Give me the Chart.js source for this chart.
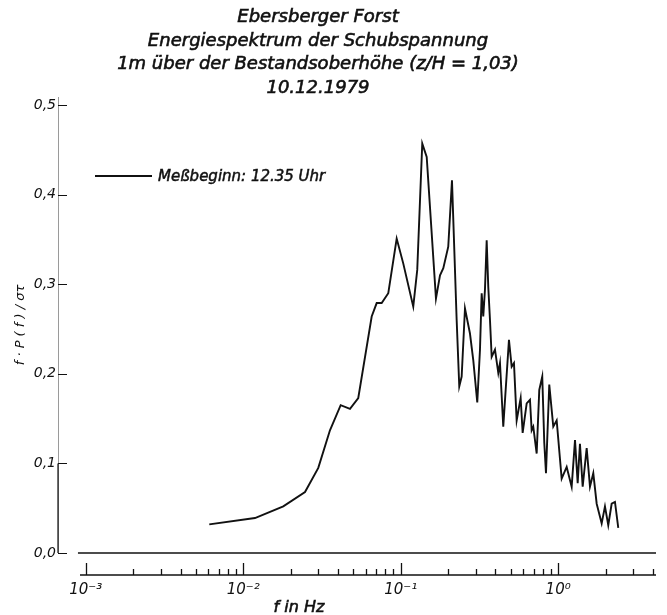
<!DOCTYPE html>
<html lang="de">
<head>
<meta charset="utf-8">
<title>Ebersberger Forst – Energiespektrum der Schubspannung</title>
<script src="https://cdn.jsdelivr.net/npm/chart.js@4.4.1/dist/chart.umd.min.js"></script>
<style>
  html, body { margin: 0; padding: 0; background: #fff; }
  #chart { display: block; }
</style>
</head>
<body>
<canvas id="chart" width="667" height="615"></canvas>
<script>
'use strict';

// ── DATA ──
const TITLE_LINES = [
  'Ebersberger Forst',
  'Energiespektrum der Schubspannung',
  '1m über der Bestandsoberhöhe (z/H = 1,03)',
  '10.12.1979',
];

const SERIES_LABEL = 'Meßbeginn: 12.35 Uhr';
const X_TITLE = 'f in Hz';
const Y_TITLE = 'f · P ( f ) / στ';

// frequency in Hz
const FREQ_HZ = [
  0.00609, 0.01188, 0.01797, 0.02469, 0.02998, 0.03556, 0.04159, 0.04766, 0.05379, 0.06545,
  0.07041, 0.07574, 0.08342, 0.09432, 0.1039, 0.1202, 0.1274, 0.1371, 0.1463, 0.1675,
  0.1777, 0.1865, 0.2005, 0.2117, 0.2267, 0.2355, 0.2439, 0.2560, 0.2754, 0.2891,
  0.3064, 0.3188, 0.3268, 0.3345, 0.3429, 0.3516, 0.3599, 0.3690, 0.3783, 0.3970,
  0.4166, 0.4271, 0.4481, 0.4870, 0.5067, 0.5240, 0.5450, 0.5778, 0.5950, 0.6310,
  0.6622, 0.6787, 0.6949, 0.7303, 0.7586, 0.7925, 0.8161, 0.8367, 0.8780, 0.9309,
  0.9784, 1.0524, 1.1324, 1.218, 1.279, 1.330, 1.375, 1.431, 1.517, 1.592,
  1.671, 1.756, 1.889, 1.982, 2.080, 2.186, 2.294, 2.408,
];

// f·P(f)/σ² (dimensionless)
const SPECTRUM = [
  0.032, 0.039, 0.052, 0.068, 0.095, 0.137, 0.165, 0.161, 0.173, 0.264,
  0.279, 0.279, 0.290, 0.351, 0.323, 0.275, 0.316, 0.457, 0.442, 0.284,
  0.310, 0.318, 0.342, 0.416, 0.260, 0.186, 0.197, 0.273, 0.245, 0.215,
  0.168, 0.227, 0.290, 0.264, 0.294, 0.349, 0.297, 0.260, 0.219, 0.227,
  0.201, 0.212, 0.141, 0.238, 0.208, 0.212, 0.148, 0.173, 0.134, 0.167,
  0.171, 0.137, 0.141, 0.111, 0.182, 0.197, 0.123, 0.089, 0.188, 0.141,
  0.148, 0.083, 0.096, 0.074, 0.126, 0.078, 0.122, 0.074, 0.117, 0.074,
  0.089, 0.055, 0.033, 0.052, 0.031, 0.055, 0.057, 0.028,
];

const Y_TICKS = [0, 0.1, 0.2, 0.3, 0.4, 0.5];
const X_DECADES = [0.001, 0.01, 0.1, 1];
const X_DECADE_LABELS = ['10⁻³', '10⁻²', '10⁻¹', '10⁰'];
const X_MINOR_TICKS = [
  0.002, 0.003, 0.004, 0.005, 0.006, 0.007, 0.008, 0.009,
  0.02, 0.03, 0.04, 0.05, 0.06, 0.07, 0.08, 0.09,
  0.2, 0.3, 0.4, 0.5, 0.6, 0.7, 0.8, 0.9,
  2, 3, 4,
];

// axis ranges
const X_MIN = 0.000667;
const X_MAX = 4.18;
const Y_MAX = 0.509;

// ── LOOK ──
const INK = '#111';
const FONT_FAMILY = '"DejaVu Sans", "Noto Sans", sans-serif';
const italic = (px) => `italic ${px}px ${FONT_FAMILY}`;

// fill + hairline stroke, gives the heavier lettering of the original
const heavyText = (ctx, text, x, y, weight = 0.5) => {
  ctx.fillText(text, x, y);
  ctx.lineWidth = weight;
  ctx.strokeText(text, x, y);
};

// ── DECORATION PLUGIN (title, inward ticks, lower tick bar, legend) ──
const figureDecor = {
  id: 'figureDecor',
  afterDraw(chart) {
    const { ctx, chartArea: area } = chart;
    const xs = chart.scales.x;
    const ys = chart.scales.y;
    ctx.save();
    ctx.strokeStyle = INK;
    ctx.fillStyle = INK;
    ctx.lineCap = 'butt';

    // title block
    ctx.font = italic(18);
    ctx.textAlign = 'center';
    ctx.textBaseline = 'middle';
    const titleY = [17, 41, 64, 88];
    TITLE_LINES.forEach((line, i) => heavyText(ctx, line, 318, titleY[i], 0.6));

    // zero line
    const y0 = ys.getPixelForValue(0);
    ctx.lineWidth = 1.5;
    ctx.beginPath();
    ctx.moveTo(xs.getPixelForValue(0.000893), y0);
    ctx.lineTo(area.right, y0);
    ctx.stroke();

    // darker lower part of the y axis
    ctx.lineWidth = 1.2;
    ctx.beginPath();
    ctx.moveTo(area.left, y0);
    ctx.lineTo(area.left, ys.getPixelForValue(0.1));
    ctx.stroke();

    // inward y ticks
    ctx.lineWidth = 1;
    Y_TICKS.forEach(v => {
      const py = Math.round(ys.getPixelForValue(v)) + 0.5;
      ctx.beginPath();
      ctx.moveTo(area.left, py);
      ctx.lineTo(area.left + 9, py);
      ctx.stroke();
    });

    // lower tick bar
    const barY = area.bottom + 22;
    ctx.lineWidth = 1.3;
    ctx.beginPath();
    ctx.moveTo(xs.getPixelForValue(0.00092), barY);
    ctx.lineTo(area.right, barY);
    ctx.stroke();
    const tick = (v, len) => {
      const px = Math.round(xs.getPixelForValue(v)) + 0.5;
      ctx.beginPath();
      ctx.moveTo(px, barY);
      ctx.lineTo(px, barY - len);
      ctx.stroke();
    };
    X_DECADES.forEach(v => tick(v, 12));
    X_MINOR_TICKS.forEach(v => tick(v, 6));

    // legend
    const ds = chart.data.datasets[0];
    ctx.lineWidth = ds.borderWidth;
    ctx.beginPath();
    ctx.moveTo(95, 176);
    ctx.lineTo(152, 176);
    ctx.stroke();
    ctx.font = italic(15);
    ctx.textAlign = 'left';
    heavyText(ctx, ds.label, 158, 177, 0.5);

    // x axis title
    ctx.font = italic(16);
    ctx.textAlign = 'center';
    heavyText(ctx, X_TITLE, 299, 608, 0.6);

    ctx.restore();
  },
};

// ── CHART ──
const canvas = document.getElementById('chart');
new Chart(canvas.getContext('2d'), {
  type: 'line',
  data: {
    datasets: [{
      label: SERIES_LABEL,
      data: FREQ_HZ.map((f, i) => ({ x: f, y: SPECTRUM[i] })),
      borderColor: INK,
      borderWidth: 1.9,
      pointRadius: 0,
      tension: 0,
      fill: false,
    }],
  },
  options: {
    responsive: false,
    animation: false,
    layout: { padding: { top: 97, right: 11, left: 0, bottom: 0 } },
    plugins: {
      legend: { display: false },
      title: { display: false },
      tooltip: { enabled: false },
    },
    scales: {
      x: {
        type: 'logarithmic',
        min: X_MIN,
        max: X_MAX,
        afterFit: s => { s.height = 62; },
        afterBuildTicks: s => { s.ticks = X_DECADES.map(v => ({ value: v })); },
        grid: { display: false, drawTicks: false },
        border: { display: false },
        ticks: {
          padding: 28,
          autoSkip: false,
          maxRotation: 0,
          color: INK,
          font: { family: FONT_FAMILY, style: 'italic', size: 15 },
          callback: v => X_DECADE_LABELS[X_DECADES.indexOf(v)],
        },
      },
      y: {
        min: 0,
        max: Y_MAX,
        afterFit: s => { s.width = 58; },
        afterBuildTicks: s => { s.ticks = Y_TICKS.map(v => ({ value: v })); },
        grid: { display: false, drawTicks: false },
        border: { display: true, color: '#9a9a9a', width: 1 },
        ticks: {
          padding: 2,
          color: INK,
          font: { family: FONT_FAMILY, style: 'italic', size: 14 },
          callback: v => v.toFixed(1).replace('.', ','),
        },
        title: {
          display: true,
          text: Y_TITLE,
          color: INK,
          padding: { top: 13, bottom: 0 },
          font: { family: FONT_FAMILY, style: 'italic', size: 13 },
        },
      },
    },
  },
  plugins: [figureDecor],
});
</script>
</body>
</html>
